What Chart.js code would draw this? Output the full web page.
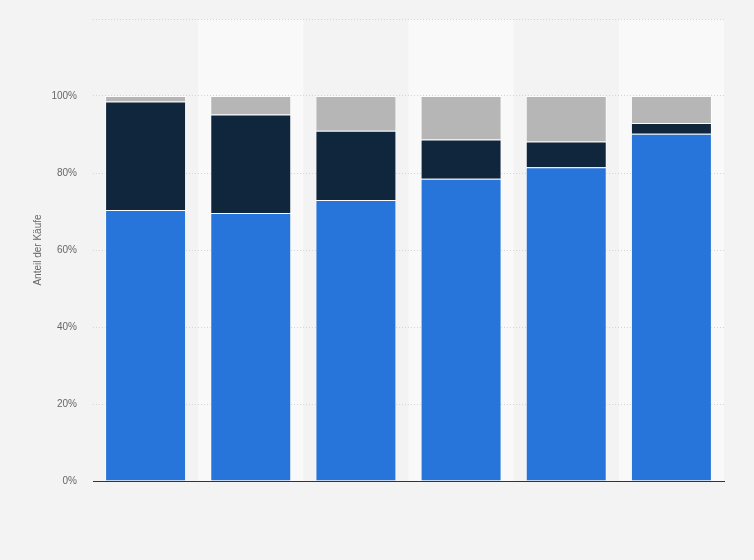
<!DOCTYPE html>
<html>
<head>
<meta charset="utf-8">
<script src="https://cdn.jsdelivr.net/npm/chart.js@4"></script>
<style>
  html, body { margin: 0; padding: 0; background: #f3f3f3; }
  #wrap { width: 754px; height: 560px; }
</style>
</head>
<body>
<div id="wrap"><canvas id="shareChart"></canvas></div>
<script>
const categories = ['1', '2', '3', '4', '5', '6'];
const seriesNames = ['Anteil A', 'Anteil B', 'Anteil C'];
const blueValues = [70.4, 69.6, 73.0, 78.5, 81.5, 90.2];
const navyValues = [28.2, 25.6, 18.0, 10.2, 6.7, 2.8];
const grayValues = [1.4, 4.8, 9.0, 11.3, 11.8, 7.0];
const yTicks = [0, 20, 40, 60, 80, 100, 120];

// light bands behind every second category
const bandPlugin = {
    id: 'bands',
    beforeDraw(chart) {
        const { ctx, chartArea, scales } = chart;
        const step = (chartArea.right - chartArea.left) / categories.length;
        ctx.save();
        ctx.fillStyle = '#f9f9f9';
        categories.forEach((c, i) => {
            if (i % 2 === 1) {
                const x = scales.x.getPixelForValue(i) - step / 2;
                ctx.fillRect(x, chartArea.top, step, chartArea.bottom - chartArea.top);
            }
        });
        ctx.restore();
    }
};

const border = { top: 1, left: 1, right: 1, bottom: 0 };

const ctx = document.getElementById('shareChart').getContext('2d');
new Chart(ctx, {
    type: 'bar',
    data: {
        labels: categories,
        datasets: [
            { label: seriesNames[0], data: blueValues, backgroundColor: '#2775da', borderColor: 'rgba(255,255,255,0.55)', borderWidth: border, borderSkipped: false },
            { label: seriesNames[1], data: navyValues, backgroundColor: '#10263c', borderColor: 'rgba(255,255,255,0.6)', borderWidth: border, borderSkipped: false },
            { label: seriesNames[2], data: grayValues, backgroundColor: '#b6b6b6', borderColor: 'rgba(255,255,255,0.7)', borderWidth: border, borderSkipped: false }
        ]
    },
    options: {
        responsive: true,
        maintainAspectRatio: false,
        animation: false,
        layout: { padding: { left: 0, right: 30, top: 19, bottom: 71 } },
        datasets: { bar: { categoryPercentage: 1, barPercentage: 0.77 } },
        scales: {
            x: {
                stacked: true,
                grid: { display: false },
                ticks: { display: false },
                border: { display: true, color: '#333333', width: 1 }
            },
            y: {
                stacked: true,
                min: 0,
                max: 120,
                afterFit(scale) {
                    scale.width = 93;
                    scale.paddingTop = 0;
                },
                afterBuildTicks(scale) { scale.ticks = yTicks.map(v => ({ value: v })); },
                ticks: {
                    padding: 16,
                    color: '#666666',
                    font: { family: 'Liberation Sans', size: 10 },
                    callback: v => v === 120 ? '' : v + '%'
                },
                grid: { color: '#d4d4d4', lineWidth: 1, drawTicks: false },
                border: { display: false, dash: [1, 2] },
                title: {
                    display: true,
                    text: 'Anteil der Käufe',
                    color: '#666666',
                    font: { family: 'Liberation Sans', size: 10 },
                    padding: { top: 32, bottom: 8 }
                }
            }
        },
        plugins: {
            legend: { display: false },
            tooltip: { enabled: false }
        }
    },
    plugins: [bandPlugin]
});
</script>
</body>
</html>
